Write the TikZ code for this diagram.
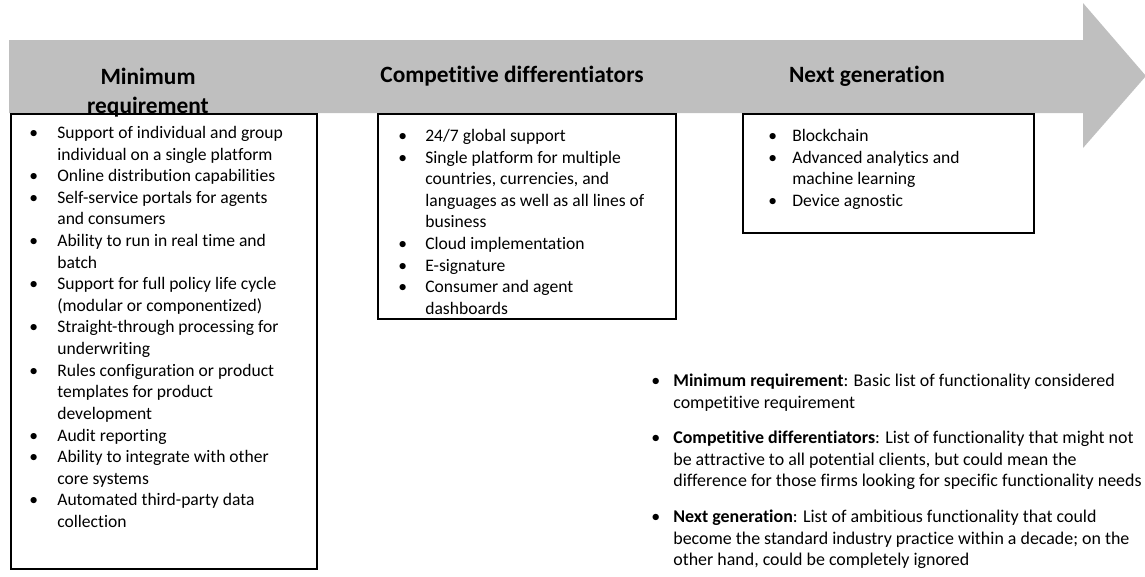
\documentclass[tikz,border=0pt]{standalone}
\usepackage{fontspec}
\setmainfont{Carlito}[Ligatures=NoCommon]
\usepackage{tikz}
\usetikzlibrary{positioning}
\definecolor{ink}{HTML}{000000}
\definecolor{band}{HTML}{BFBFBF}
\tikzset{
  stage/.style={font=\bfseries\fontsize{13.3}{16.4}\selectfont,align=center,text=ink,inner sep=0pt},
  listbox/.style={draw=ink,line width=.9pt,fill=white,anchor=north west,inner sep=0pt},
  items/.style={font=\fontsize{10}{12.3}\selectfont,anchor=north west,inner sep=0pt,text=ink},
}
\newcommand{\bl}{\textbullet}

\begin{document}
\begin{tikzpicture}[x=0.02cm,y=-0.02cm]
  \useasboundingbox (0,0) rectangle (1145,576);
  % grey arrow along the top
  \fill[band] (9,40) -- (1083,40) -- (1083,3) -- (1146,76) -- (1083,148) -- (1083,113) -- (9,113) -- cycle;

  % boxes hanging under the arrow
  \node[listbox,minimum width=6.12cm,minimum height=9.1cm] (minbox) at (10,113) {};
  \node[listbox,minimum width=5.96cm,minimum height=4.1cm] (compbox) at (377,113) {};
  \node[listbox,minimum width=5.82cm,minimum height=2.38cm] (nextbox) at (742,113) {};

  \node[stage] (minhead) at (148,93) {Minimum\\requirement};
  \node[stage] (comphead) at (512,76) {Competitive differentiators};
  \node[stage] (nexthead) at (867,76) {Next generation};

  \node[items] (minlist) at ([xshift=.38cm,yshift=-.2cm]minbox.north west) {%
    \begin{tabular}{@{}p{.56cm}@{}l@{}}
      \bl & Support of individual and group\\
          & individual on a single platform\\
      \bl & Online distribution capabilities\\
      \bl & Self-service portals for agents\\
          & and consumers\\
      \bl & Ability to run in real time and\\
          & batch\\
      \bl & Support for full policy life cycle\\
          & (modular or componentized)\\
      \bl & Straight-through processing for\\
          & underwriting\\
      \bl & Rules configuration or product\\
          & templates\ for product\\
          & development\\
      \bl & Audit reporting\\
      \bl & Ability to integrate with other\\
          & core systems\\
      \bl & Automated third-party data\\
          & collection
    \end{tabular}};

  \node[items] (complist) at ([xshift=.42cm,yshift=-.26cm]compbox.north west) {%
    \begin{tabular}{@{}p{.54cm}@{}l@{}}
      \bl & 24/7 global support\\
      \bl & Single platform for multiple\\
          & countries, currencies, and\\
          & languages as well as all lines of\\
          & business\\
      \bl & Cloud implementation\\
      \bl & E-signature\\
      \bl & Consumer and agent\\
          & dashboards
    \end{tabular}};

  \node[items] (nextlist) at ([xshift=.52cm,yshift=-.26cm]nextbox.north west) {%
    \begin{tabular}{@{}p{.48cm}@{}l@{}}
      \bl & Blockchain\\
      \bl & Advanced analytics and\\
          & machine learning\\
      \bl & Device agnostic
    \end{tabular}};

  % key to the three stages
  \node[items,font=\fontsize{10.2}{12.3}\selectfont] (legend) at (651,371) {%
    \begin{tabular}{@{}p{.44cm}@{}l@{}}
      \bl & \textbf{Minimum requirement}: Basic list of functionality considered\\
          & competitive requirement\\[8pt]
      \bl & \textbf{Competitive differentiators}: List of functionality that might not\\
          & be attractive to all potential clients, but could mean the\\
          & difference for those firms looking for specific functionality needs\\[8pt]
      \bl & \textbf{Next generation}: List of ambitious functionality that could\\
          & become the standard industry practice within a decade; on the\\
          & other hand, could be completely ignored
    \end{tabular}};
\end{tikzpicture}
\end{document}
